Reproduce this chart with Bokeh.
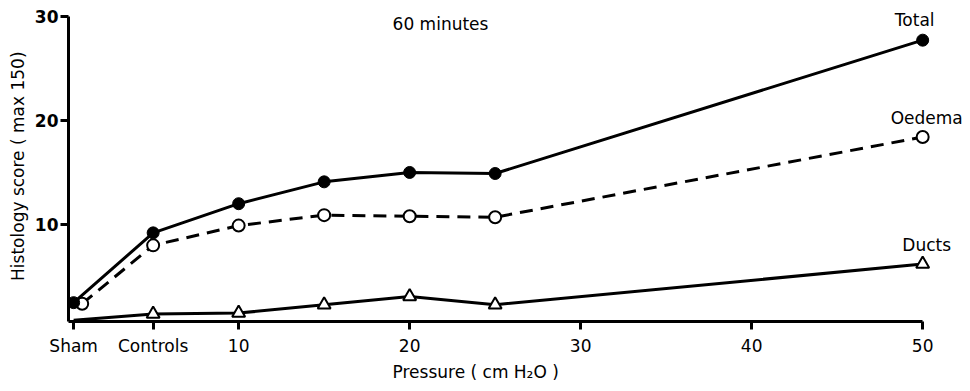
from bokeh.plotting import figure
from bokeh.models import Range1d, FixedTicker, Label, Title
from bokeh.embed import file_html
from bokeh.resources import INLINE

# Histology scores after 60 minutes at each perfusion pressure
categories = ["Sham", "Controls", "10", "15", "20", "25", "50"]
x_pos = [0.35, 5, 10, 15, 20, 25, 50]   # Sham and Controls sit ahead of the pressure scale
total = [2.5, 9.2, 12.0, 14.1, 15.0, 14.9, 27.7]
oedema = [2.4, 8.0, 9.9, 10.9, 10.8, 10.7, 18.4]
ducts = [0.8, 1.4, 1.5, 2.3, 3.1, 2.3, 6.2]

tick_pos = [0.35, 5, 10, 20, 30, 40, 50]
tick_labels = ["Sham", "Controls", "10", "20", "30", "40", "50"]
y_ticks = [10, 20, 30]

FONT = "DejaVu Sans"
INK = "#000000"

p = figure(
    width=970, height=391,
    frame_width=900, frame_height=316,
    x_range=Range1d(0.05, 52.68), y_range=Range1d(0.69, 31.03),
    output_backend="svg", toolbar_location=None,
    min_border_left=68, min_border_right=2, min_border_top=5, min_border_bottom=70,
    background_fill_color="white", border_fill_color="white",
)
p.outline_line_color = None
p.grid.visible = False

# axes
for ax in (p.xaxis[0], p.yaxis[0]):
    ax.axis_line_width = 3
    ax.axis_line_color = INK
    ax.major_tick_line_width = 3
    ax.major_tick_line_color = INK
    ax.major_tick_in = 0
    ax.major_tick_out = 8
    ax.minor_tick_line_color = None
    ax.major_label_text_font = FONT
    ax.major_label_text_font_size = "17px"
    ax.major_label_text_color = INK

p.xaxis.ticker = FixedTicker(ticks=tick_pos)
p.xaxis.major_label_overrides = {t: l for t, l in zip(tick_pos, tick_labels)}
p.xaxis.bounds = (0.05, 50)
p.xaxis.major_label_standoff = 6

p.yaxis.ticker = FixedTicker(ticks=y_ticks)
p.yaxis.bounds = (0.69, 30)
p.yaxis.major_label_text_font_style = "bold"
p.yaxis.major_label_standoff = 2
p.yaxis.axis_label = "Histology score  ( max 150)"
p.yaxis.axis_label_text_font = FONT
p.yaxis.axis_label_text_font_size = "17px"
p.yaxis.axis_label_text_font_style = "normal"
p.yaxis.axis_label_text_color = INK
p.yaxis.axis_label_standoff = 4

# x-axis caption, set a little left of the frame's centre
p.add_layout(Title(text="Pressure  ( cm H\u2082O )", align="left", offset=324,
                   text_font=FONT, text_font_size="17px", text_font_style="normal",
                   text_color=INK, standoff=2), "below")

# nudge the open Sham circle aside so the filled one stays visible
oedema_x = [x + (0.5 if c == "Sham" else 0) for x, c in zip(x_pos, categories)]

# series
p.line(x_pos, ducts, line_width=3, line_color=INK)
p.scatter(x_pos[1:], ducts[1:], marker="triangle", size=13, fill_color="white",
          line_color=INK, line_width=2)

p.line(oedema_x, oedema, line_width=3, line_color=INK, line_dash="13 8")
p.scatter(oedema_x, oedema, marker="circle", size=12, fill_color="white",
          line_color=INK, line_width=2)

p.line(x_pos, total, line_width=3, line_color=INK)
p.scatter(x_pos, total, marker="circle", size=12, fill_color=INK, line_color=INK)

# series names beside the last points
def tag(text, x, y, dx, dy):
    p.add_layout(Label(x=x, y=y, x_offset=dx, y_offset=dy, text=text,
                       text_font=FONT, text_font_size="17px", text_color=INK,
                       text_align="center", text_baseline="bottom"))

tag("Total", x_pos[-1], total[-1], -8, 10)
tag("Oedema", x_pos[-1], oedema[-1], 4, 9)
tag("Ducts", x_pos[-1], ducts[-1], 4, 9)

# title inside the plot area (screen units from the frame's lower-left corner)
p.add_layout(Label(x=372, y=298, x_units="screen", y_units="screen",
                   text="60 minutes", text_font=FONT, text_font_size="17px",
                   text_color=INK, text_align="center", text_baseline="middle"))

open("out.html", "w").write(file_html(p, INLINE))
